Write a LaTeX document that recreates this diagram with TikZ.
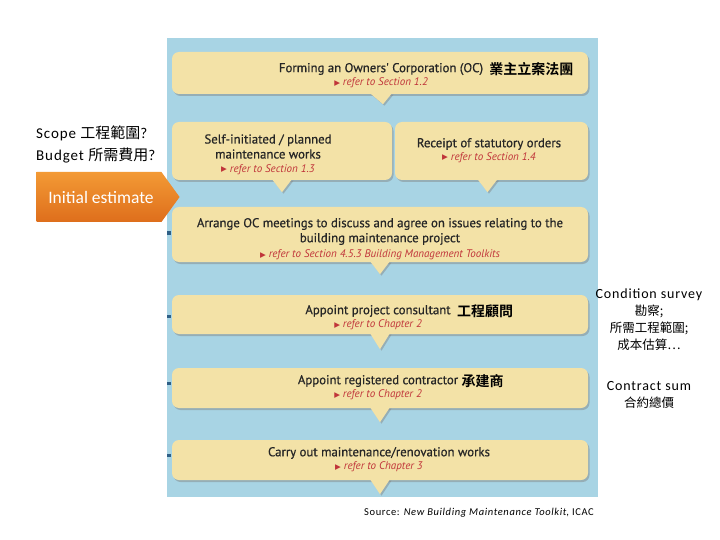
\documentclass[tikz,border=0pt]{standalone}
\usepackage{fontspec}
\setmainfont{Carlito}
\newfontfamily\sidefont{Carlito}[LetterSpace=6]
\newfontfamily\boxfont{PT Sans}[FakeBold=0.7]
\newfontfamily\referfont{PT Sans}
\newfontfamily\cjk{Noto Sans CJK TC}
\newfontfamily\cjkbold{Noto Sans CJK TC}[BoldFont={* Bold}]
\newfontfamily\symfont{DejaVu Sans}
\usepackage{xcolor}
\usetikzlibrary{positioning, calc, shadows, shapes.symbols}

\definecolor{panelblue}{HTML}{A8D4E4}
\definecolor{boxyellow}{HTML}{F3E2A7}
\definecolor{referred}{HTML}{C0353A}
\definecolor{orangetop}{HTML}{F39A35}
\definecolor{orangebot}{HTML}{DE6E1C}
\definecolor{tickblue}{HTML}{2E5F86}

\newcommand{\refer}[1]{{\symfont\fontsize{7.5}{7.5}\selectfont\raisebox{0.6pt}{▶}}\ \textit{#1}}

\begin{document}
\begin{tikzpicture}[x=1pt, y=-1pt]
        \tikzstyle{call_style} = [rectangle, rounded corners=7pt, inner sep=0pt, fill=boxyellow, drop shadow={shadow xshift=1.5pt, shadow yshift=-2pt, opacity=0.45}]
        \tikzstyle{title_style} = [inner sep=0pt, align=center, text=black!85, font=\boxfont\fontsize{12.8}{15}\selectfont]
        \tikzstyle{refer_style} = [inner sep=0pt, text=referred, font=\referfont\fontsize{11}{12}\selectfont]
        \tikzstyle{cjk_style} = [inner sep=0pt, font=\cjkbold\bfseries\fontsize{14}{14}\selectfont]
        \tikzstyle{side_style} = [inner sep=0pt, align=center, font=\sidefont\fontsize{14}{17}\selectfont]

        \useasboundingbox (0,0) rectangle (720,540);
        \fill[white] (0,0) rectangle (720,540);

        % Blue panel
        \fill[panelblue] (167,38) rectangle (598,497);
        \fill[tickblue] (167,231.5) rectangle (171,234.5);
        \fill[tickblue] (167,314.5) rectangle (171,317.5);
        \fill[tickblue] (167,381.5) rectangle (171,384.5);
        \fill[tickblue] (167,453.5) rectangle (171,456.5);

        % Callout boxes
        \node (oc) [call_style, minimum width=416, minimum height=42] at (380,73) {};
        \node (self) [call_style, minimum width=220, minimum height=58] at (282,151) {};
        \node (order) [call_style, minimum width=193, minimum height=58] at (491.5,151) {};
        \node (meet) [call_style, minimum width=416, minimum height=55] at (380,234.5) {};
        \node (cons) [call_style, minimum width=416, minimum height=39] at (380,314.5) {};
        \node (contr) [call_style, minimum width=416, minimum height=40] at (380,388) {};
        \node (works) [call_style, minimum width=416, minimum height=40] at (380,460) {};

        % Pointers under the boxes
        \fill[boxyellow, drop shadow={shadow xshift=1.5pt, shadow yshift=-1.5pt, opacity=0.45}] ([xshift=-10pt, yshift=1pt]oc.south) -- ([xshift=3pt, yshift=-10pt]oc.south) -- ([xshift=12pt, yshift=1pt]oc.south) -- cycle;
        \fill[boxyellow, drop shadow={shadow xshift=1.5pt, shadow yshift=-1.5pt, opacity=0.45}] ([xshift=-10pt, yshift=1pt]self.south) -- ([xshift=0pt, yshift=-12pt]self.south) -- ([xshift=10pt, yshift=1pt]self.south) -- cycle;
        \fill[boxyellow, drop shadow={shadow xshift=1.5pt, shadow yshift=-1.5pt, opacity=0.45}] ([xshift=-14pt, yshift=1pt]order.south) -- ([xshift=-4pt, yshift=-12pt]order.south) -- ([xshift=6pt, yshift=1pt]order.south) -- cycle;
        \fill[boxyellow, drop shadow={shadow xshift=1.5pt, shadow yshift=-1.5pt, opacity=0.45}] ([xshift=-10pt, yshift=1pt]meet.south) -- ([xshift=0pt, yshift=-12pt]meet.south) -- ([xshift=10pt, yshift=1pt]meet.south) -- cycle;
        \fill[boxyellow, drop shadow={shadow xshift=1.5pt, shadow yshift=-1.5pt, opacity=0.45}] ([xshift=-10pt, yshift=1pt]cons.south) -- ([xshift=0pt, yshift=-15pt]cons.south) -- ([xshift=10pt, yshift=1pt]cons.south) -- cycle;
        \fill[boxyellow, drop shadow={shadow xshift=1.5pt, shadow yshift=-1.5pt, opacity=0.45}] ([xshift=-10pt, yshift=1pt]contr.south) -- ([xshift=0pt, yshift=-14pt]contr.south) -- ([xshift=10pt, yshift=1pt]contr.south) -- cycle;
        \fill[boxyellow, drop shadow={shadow xshift=1.5pt, shadow yshift=-1.5pt, opacity=0.45}] ([xshift=-10pt, yshift=1pt]works.south) -- ([xshift=0pt, yshift=-14pt]works.south) -- ([xshift=10pt, yshift=1pt]works.south) -- cycle;

        % Box texts
        \node (octitle) [title_style] at (381,69) {Forming an Owners' Corporation (OC)};
        \node (occjk) [cjk_style, right=6pt of octitle] {業主立案法團};
        \node (ocref) [refer_style, below=2.5pt of octitle] {\refer{refer to Section 1.2}};

        \node (selftitle) [title_style] at (268,146.5) {Self-initiated / planned\\maintenance works};
        \node (selfref) [refer_style, below=5.5pt of selftitle] {\refer{refer to Section 1.3}};

        \node (ordertitle) [title_style] at (489,144) {Receipt of statutory orders};
        \node (orderref) [refer_style, below=2.5pt of ordertitle] {\refer{refer to Section 1.4}};

        \node (meettitle) [title_style] at (380,231.5) {Arrange OC meetings to discuss and agree on issues relating to the\\building maintenance project};
        \node (meetref) [refer_style, below=4.5pt of meettitle] {\refer{refer to Section 4.5.3 Building Management Toolkits}};

        \node (constitle) [title_style] at (378,311) {Appoint project consultant};
        \node (conscjk) [cjk_style, right=6pt of constitle] {工程顧問};
        \node (consref) [refer_style, below=2.5pt of constitle] {\refer{refer to Chapter 2}};

        \node (contrtitle) [title_style] at (378,381) {Appoint registered contractor};
        \node (contrcjk) [cjk_style, right=3pt of contrtitle] {承建商};
        \node (contrref) [refer_style, below=2.5pt of contrtitle] {\refer{refer to Chapter 2}};

        \node (workstitle) [title_style] at (379,453) {Carry out maintenance/renovation works};
        \node (worksref) [refer_style, below=2.5pt of workstitle] {\refer{refer to Chapter 3}};

        % Orange arrow on the left
        \node (estimate) [signal, signal to=east, signal pointer angle=108, minimum width=143, minimum height=50, inner sep=0pt, top color=orangetop, bottom color=orangebot, draw=none, text=white, font=\fontsize{17.5}{17.5}\selectfont] at (99,197) {\hspace*{4pt}Initial estimate};

        % Side notes
        \node (scope) [side_style, align=left, anchor=west, font=\sidefont\fontsize{15}{15}\selectfont] at (36,133) {Scope {\cjk 工程範圍}?};
        \node (budget) [side_style, align=left, anchor=west, font=\sidefont\fontsize{15}{15}\selectfont] at (36,155) {Budget {\cjk 所需費用}?};
        \node (survey) [side_style] at (649,320) {Condition survey\\{\cjk\fontsize{12.5}{17}\selectfont 勘察;}\\{\cjk\fontsize{12.5}{17}\selectfont 所需工程範圍;}\\{\cjk\fontsize{12.5}{17}\selectfont 成本估算…}};
        \node (sum) [side_style] at (649,394.5) {Contract sum\\{\cjk\fontsize{12.5}{17}\selectfont 合約總價}};

        % Source line
        \node (source) [inner sep=0pt, anchor=east, font=\sidefont\fontsize{10.5}{10.5}\selectfont] at (594,513) {Source: \textit{New Building Maintenance Toolkit}, ICAC};
    \end{tikzpicture}
\end{document}
